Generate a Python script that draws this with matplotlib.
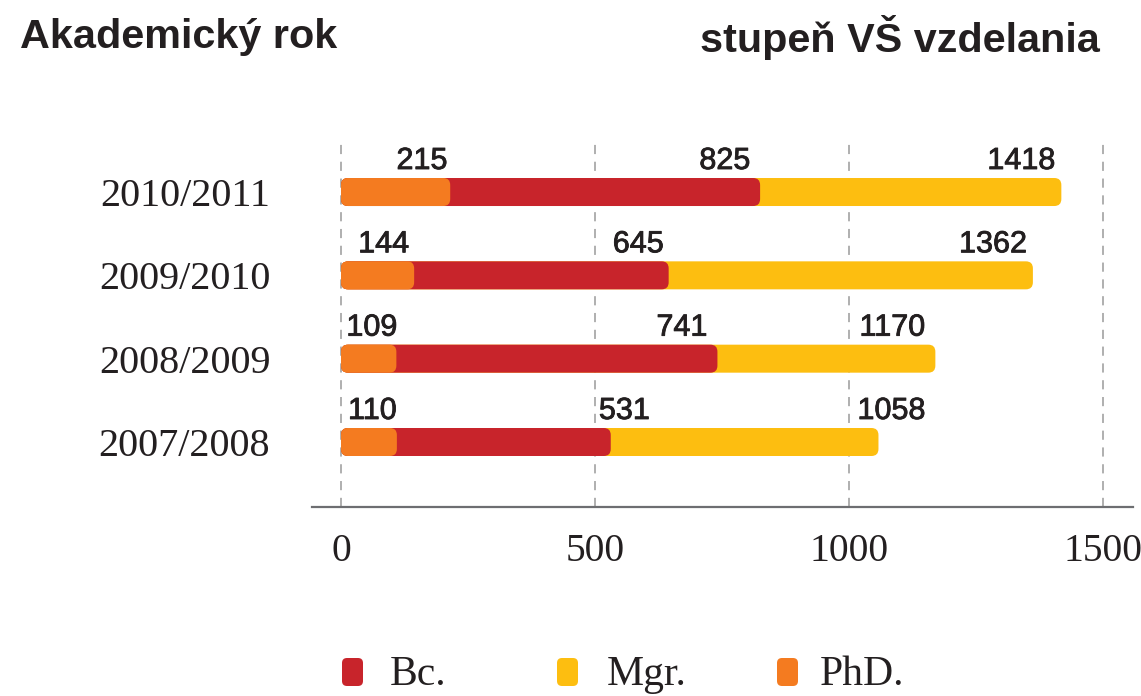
import matplotlib
matplotlib.use("Agg")
import matplotlib.pyplot as plt
from matplotlib.patches import FancyBboxPatch
from matplotlib.transforms import IdentityTransform
import matplotlib.patheffects as pe

# ---- data ----
years = ["2007/2008", "2008/2009", "2009/2010", "2010/2011"]
phd = [110, 109, 144, 215]          # cumulative end of PhD segment
bc = [531, 741, 645, 825]           # cumulative end of Bc. segment
mgr = [1058, 1170, 1362, 1418]      # cumulative end of Mgr. segment
xticks = [0, 500, 1000, 1500]
legend_labels = ["Bc.", "Mgr.", "PhD."]

# ---- style ----
C_BC = "#C8242B"
C_MGR = "#FDBE10"
C_PHD = "#F47B20"
TXT = "#231F20"
SERIF = "Liberation Serif"
SANS = "Liberation Sans"

# label horizontal nudges in pixels (right edge relative to segment end)
dx_phd = [0, 1, -5, -3]
dx_bc = [39, -10, -5, -10]
dx_mgr = [47, -10, -6, -6]

W, H, DPI = 1141, 696, 100
fig = plt.figure(figsize=(W / DPI, H / DPI), dpi=DPI)
fig.patch.set_facecolor("white")

ax_l, ax_r, ax_t, ax_b = 312, 1133, 140, 507
ax = fig.add_axes([ax_l / W, 1 - ax_b / H, (ax_r - ax_l) / W, (ax_b - ax_t) / H])
x0px, xppu = 341, 0.508
xmin = (ax_l - x0px) / xppu
xmax = (ax_r - x0px) / xppu
yspace = 83.33
y_bottom_row = 442
ymin = -(ax_b - y_bottom_row) / yspace
ymax = (len(years) - 1) + (y_bottom_row - (len(years) - 1) * yspace - ax_t) / yspace
ax.set_xlim(xmin, xmax)
ax.set_ylim(ymin, ymax)

for s in ["top", "right", "left"]:
    ax.spines[s].set_visible(False)
ax.spines["bottom"].set_color("#6d6e71")
ax.spines["bottom"].set_linewidth(1.6)

ax.set_xticks(xticks)
ax.set_xticklabels([str(t) for t in xticks], fontfamily=SERIF, fontsize=28.5, color=TXT)
ax.tick_params(axis="x", length=0, pad=19)
ax.set_yticks(range(len(years)))
ax.set_yticklabels(years, fontfamily=SERIF, fontsize=29, color=TXT)
ax.tick_params(axis="y", length=0, pad=30)

for t in xticks:
    ax.axvline(t, color="#9a9a9a", lw=1.1, ls=(0, (6, 5)), zorder=0)

bar_h = 28 / yspace
r_px = 7
rsize = r_px / xppu
aspect = (1 / yspace) / (1 / xppu)

def rbar(y, w, color, z):
    p = FancyBboxPatch((0, y - bar_h / 2), w, bar_h,
                       boxstyle=f"round,pad=0,rounding_size={rsize}",
                       mutation_aspect=aspect, fc=color, ec="none", zorder=z)
    ax.add_patch(p)

lab_kw = dict(fontfamily=SANS, fontsize=22, color=TXT, ha="right", va="center",
              textcoords="offset points",
              path_effects=[pe.withStroke(linewidth=0.6, foreground=TXT)])
for i in range(len(years)):
    rbar(i, mgr[i], C_MGR, 2)
    rbar(i, bc[i], C_BC, 3)
    rbar(i, phd[i], C_PHD, 4)
    for v, dx in ((phd[i], dx_phd[i]), (bc[i], dx_bc[i]), (mgr[i], dx_mgr[i])):
        ax.annotate(str(v), xy=(v, i), xytext=(dx * 0.72, 31 * 0.72), **lab_kw)

# ---- titles ----
fig.text(20 / W, 1 - 37 / H, "Akademický rok", fontfamily=SANS, fontweight="bold",
         fontsize=29.8, color=TXT, ha="left", va="center")
fig.text(1100 / W, 1 - 37 / H, "stupeň VŠ vzdelania", fontfamily=SANS, fontweight="bold",
         fontsize=29.8, color=TXT, ha="right", va="center")

# ---- legend ----
leg_colors = [C_BC, C_MGR, C_PHD]
marker_x = [342, 557, 777]
text_x = [390, 607, 820]
for lab, c, mx, tx in zip(legend_labels, leg_colors, marker_x, text_x):
    p = FancyBboxPatch((mx, H - 686), 21, 28,
                       boxstyle="round,pad=0,rounding_size=5",
                       fc=c, ec="none", transform=IdentityTransform())
    fig.patches.append(p)
    fig.text(tx / W, 1 - 675 / H, lab, fontfamily=SERIF, fontsize=30, color=TXT,
             ha="left", va="center")

fig.savefig("out.png", dpi=DPI)
